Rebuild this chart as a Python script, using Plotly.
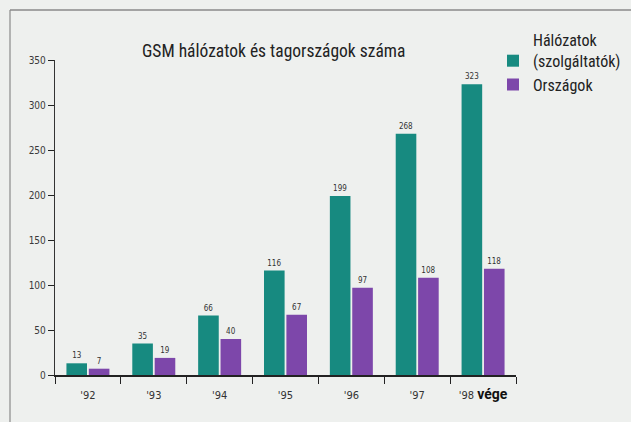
import plotly.graph_objects as go

# Year-end counts of GSM networks (operators) and member countries
years = ["'92", "'93", "'94", "'95", "'96", "'97", "'98"]
year_labels = ["'92", "'93", "'94", "'95", "'96", "'97",
               "'98 <span style='font-family:Roboto;font-size:14px;color:#111'><b>vége</b></span>"]
networks = [13, 35, 66, 116, 199, 268, 323]
countries = [7, 19, 40, 67, 97, 108, 118]

W, H = 631, 422
ML, MR, MT, MB = 55, 115, 60, 47
PW, PH = W - ML - MR, H - MT - MB


def px_x(x):
    return (x - ML) / PW


def px_y(y):
    return (H - MB - y) / PH


teal = "#178a80"
purple = "#7d47aa"
bg = "#eef0ee"
narrow = "Liberation Sans Narrow, Roboto Condensed, Arial Narrow, Roboto"
tick_font = dict(family="DejaVu Sans Condensed, DejaVu Sans", size=10, color="#3a3a3a")

fig = go.Figure()
fig.add_bar(x=years, y=networks, name="Hálózatok<br>(szolgáltatók)",
            marker=dict(color=teal, line=dict(width=0)),
            text=networks, textposition="outside", cliponaxis=False,
            textfont=dict(family="DejaVu Sans Condensed, DejaVu Sans", size=8, color="#333"))
fig.add_bar(x=years, y=countries, name="Országok",
            marker=dict(color=purple, line=dict(width=0)),
            text=countries, textposition="outside", cliponaxis=False,
            textfont=dict(family="DejaVu Sans Condensed, DejaVu Sans", size=8, color="#333"))

fig.update_layout(
    width=W, height=H,
    margin=dict(l=ML, r=MR, t=MT, b=MB, autoexpand=False),
    paper_bgcolor=bg, plot_bgcolor=bg,
    barmode="group", bargap=0.32, bargroupgap=0.08,
    showlegend=True,
    legend=dict(x=px_x(493), y=px_y(23), xanchor="left", yanchor="top",
                bgcolor="rgba(0,0,0,0)", valign="bottom", tracegroupgap=0,
                itemwidth=30,
                font=dict(family=narrow, size=16, color="#222")),
    font=dict(family="Roboto"),
)

fig.update_xaxes(
    type="category", categoryorder="array", categoryarray=years,
    tickmode="array", tickvals=years, ticktext=year_labels,
    tickson="boundaries", ticks="outside", ticklen=7, tickwidth=1.3, tickcolor="#222",
    showline=True, linecolor="#222", linewidth=1.6,
    showgrid=False, zeroline=False,
    tickfont=dict(family="DejaVu Sans Condensed, DejaVu Sans", size=11, color="#333"),
    ticklabelstandoff=9,
)
fig.update_yaxes(
    range=[0, 350], tickmode="array", tickvals=[0, 50, 100, 150, 200, 250, 300, 350],
    ticks="outside", ticklen=6, tickwidth=1.2, tickcolor="#222",
    showline=True, linecolor="#333", linewidth=1.4,
    showgrid=False, zeroline=False, tickfont=tick_font,
)

# Title inside the plot area
fig.add_annotation(text="GSM hálózatok és tagországok száma", xref="paper", yref="paper",
                   x=px_x(140), y=px_y(51), xanchor="left", yanchor="middle", showarrow=False,
                   font=dict(family=narrow, size=17.5, color="#222"))

# Page frame: left and top rules
fig.add_shape(type="line", xref="paper", yref="paper",
              x0=px_x(10), x1=px_x(10), y0=px_y(10), y1=px_y(H + 5),
              line=dict(color="#8a8a8a", width=1.2))
fig.add_shape(type="line", xref="paper", yref="paper",
              x0=px_x(10), x1=px_x(W + 5), y0=px_y(10), y1=px_y(10),
              line=dict(color="#8a8a8a", width=1.5))

fig.write_html("out.html")
